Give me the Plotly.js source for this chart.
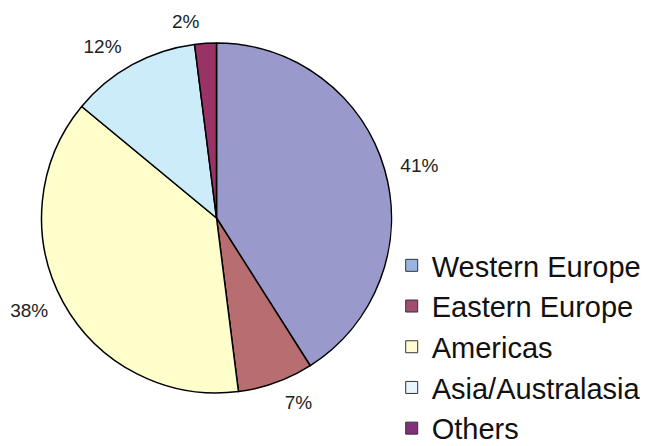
<!DOCTYPE html>
<html><head><meta charset="utf-8">
<script src="https://cdn.plot.ly/plotly-3.0.1.min.js"></script>
<style>html,body{margin:0;padding:0;background:#fff;width:655px;height:446px;overflow:hidden}#chart{width:655px;height:466px}</style>
</head><body><div id="chart"></div>
<script>
const regions = ["Western Europe", "Eastern Europe", "Americas", "Asia/Australasia", "Others"];
const shares = [41, 7, 38, 12, 2];
const sliceColors = ["#9999CC", "#B86E70", "#FFFFCC", "#CCECF9", "#993366"];
const legendColors = ["#99B4E0", "#A24C72", "#FFFBD2", "#E8F5FC", "#80307C"];
const clear = regions.map(() => "rgba(0,0,0,0)");

const legendPie = {
  type: "pie", labels: regions, values: shares, sort: false, direction: "clockwise",
  marker: {colors: legendColors, line: {color: "#333", width: 1}},
  textinfo: "none", hoverinfo: "skip",
  domain: {x: [0.32, 0.34], y: [0.52, 0.54]},
  showlegend: true
};
const mainPie = {
  type: "pie", labels: regions, values: shares, sort: false, direction: "clockwise", rotation: 0,
  marker: {colors: sliceColors, line: {color: "#000", width: 1.5}},
  textinfo: "none",
  domain: {x: [0.0634, 0.5977], y: [0.1567, 0.9077]},
  showlegend: false
};
const labelPie = {
  type: "pie", labels: regions, values: shares, sort: false, direction: "clockwise", rotation: 0,
  marker: {colors: clear, line: {width: 0}},
  textposition: "outside",
  texttemplate: "%{percent:.0%}",
  outsidetextfont: {family: "Liberation Sans, Arial, sans-serif", size: 19, color: "#222"},
  domain: {x: [0.0466, 0.6145], y: [0.1330, 0.9313]},
  showlegend: false
};
const layout = {
  width: 655, height: 466,
  margin: {l: 0, r: 0, t: 0, b: 0},
  paper_bgcolor: "#fff",
  showlegend: true,
  legend: {x: 0.598, y: 0.485, xanchor: "left", yanchor: "top",
    font: {family: "Liberation Sans, Arial, sans-serif", size: 29, color: "#111"},
    bgcolor: "rgba(0,0,0,0)", tracegroupgap: 0}
};
Plotly.newPlot("chart", [legendPie, mainPie, labelPie], layout, {displayModeBar: false, staticPlot: true});
</script></body></html>
